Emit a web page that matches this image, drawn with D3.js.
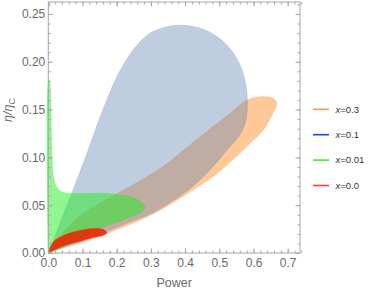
<!DOCTYPE html>
<html>
<head>
<meta charset="utf-8">
<script src="https://cdn.jsdelivr.net/npm/d3@7"></script>
<style>
body { margin: 0; background: #fff; }
text { font-family: "Liberation Sans", Arial, sans-serif; }
</style>
</head>
<body>
<script>

// boundary curves [Power, eta/etaC] for each x value
var curveX03 = [[0,0],[0.01,0.006],[0.04,0.02],[0.09,0.038],[0.185,0.059],[0.28,0.078],[0.341,0.092],[0.434,0.119],
    [0.531,0.1459],[0.58,0.16],[0.619,0.1635],[0.648,0.1631],[0.664,0.16],[0.668,0.1558],[0.657,0.1461],[0.629,0.1286],
    [0.58,0.1112],[0.531,0.0946],[0.482,0.0798],[0.434,0.0685],[0.385,0.057],[0.307,0.0408],[0.21,0.0256],[0.122,0.0136],
    [0.049,0.0058],[0,0]];

var curveX01 = [[0,0],[0.0225,0.0209],[0.0684,0.0627],[0.1161,0.1077],[0.1512,0.1422],[0.2,0.1841],[0.2477,0.2123],
    [0.2974,0.2301],[0.3462,0.2367],[0.385,0.2384],[0.444,0.2353],[0.496,0.2259],[0.54,0.21],[0.567,0.1914],[0.5795,0.1726],
    [0.5825,0.1548],[0.578,0.1385],[0.565,0.1262],[0.548,0.1175],[0.531,0.1112],[0.482,0.0903],[0.434,0.0732],[0.385,0.0596],
    [0.307,0.0424],[0.21,0.0282],[0.122,0.0152],[0.049,0.0063],[0,0]];

var curveX001 = [[0,0],[0,0.179],[0.0035,0.181],[0.007,0.16],[0.0094,0.129],[0.0117,0.098],[0.0146,0.0816],[0.0196,0.073],
    [0.0292,0.0667],[0.0439,0.0636],[0.0684,0.0625],[0.185,0.062],[0.244,0.0586],[0.263,0.0554],[0.283,0.0484],[0.273,0.0432],
    [0.244,0.038],[0.205,0.0328],[0.166,0.0282],[0.122,0.02],[0.063,0.0094],[0,0]];

var curveX00 = [[0,0],[0.004,0.005],[0.01,0.009],[0.02,0.0135],[0.049,0.019],[0.088,0.0232],[0.13,0.0255],[0.16,0.0248],
    [0.171,0.0215],[0.162,0.0185],[0.13,0.0162],[0.088,0.0118],[0.049,0.0082],[0.015,0.003],[0,0]];

var legendLabels = ["0.3", "0.1", "0.01", "0.0"];
var legendColors = ["#ff9a40", "#2a3cff", "#33ee33", "#ff3a3a"];

var xTicks = [0, 0.1, 0.2, 0.3, 0.4, 0.5, 0.6, 0.7];
var xTickLabels = ["0.0", "0.1", "0.2", "0.3", "0.4", "0.5", "0.6", "0.7"];
var yTicks = [0, 0.05, 0.1, 0.15, 0.2, 0.25];
var yTickLabels = ["0.00", "0.05", "0.10", "0.15", "0.20", "0.25"];

var chartW = 374, chartH = 293;
var frameL = 48.3, frameR = 300, frameT = 2, frameB = 253;

var svg = d3.select("body").append("svg")
    .attr("width", chartW)
    .attr("height", chartH);

var x = d3.scaleLinear().domain([0, 0.736]).range([frameL, frameR]);
var y = d3.scaleLinear().domain([0, 0.2625]).range([frameB, frameT]);

var line = d3.line()
    .x(function(d){ return x(d[0]); })
    .y(function(d){ return y(d[1]); })
    .curve(d3.curveCatmullRom.alpha(0.5));

var regions = [
    {data: curveX03, fill: "#ff9a40", op: 0.55},
    {data: curveX01, fill: "#5e81b5", op: 0.4},
    {data: curveX001, fill: "#22ee22", op: 0.5},
    {data: curveX00, fill: "#ee2000", op: 0.85}
];

var gPlot = svg.append("g");
regions.forEach(function(r){
    gPlot.append("path")
        .attr("d", line(r.data))
        .attr("fill", r.fill)
        .attr("fill-opacity", r.op)
        .attr("stroke", r.fill)
        .attr("stroke-opacity", r.op * 0.6)
        .attr("stroke-width", 0.6);
});

// frame
svg.append("rect")
    .attr("x", frameL).attr("y", frameT)
    .attr("width", frameR - frameL).attr("height", frameB - frameT)
    .attr("fill", "none")
    .attr("stroke", "#a6a6a6")
    .attr("stroke-width", 1);

var xMinor = d3.range(0, 0.7401, 0.02);
var yMinor = d3.range(0, 0.2601, 0.01);

function styleAxis(g){
    g.select(".domain").remove();
    g.selectAll(".tick line").attr("stroke", "#a6a6a6");
    g.selectAll(".tick text").attr("fill", "#6a6a6a").style("font-size", "12px")
        .style("font-family", "'Liberation Sans', Arial, sans-serif");
}

// bottom
svg.append("g").attr("transform", "translate(0," + frameB + ")")
    .call(d3.axisBottom(x).tickValues(xMinor).tickSize(-2.5).tickFormat(""))
    .call(styleAxis);
svg.append("g").attr("transform", "translate(0," + frameB + ")")
    .call(d3.axisBottom(x).tickValues(xTicks).tickSize(-4.5).tickPadding(5)
        .tickFormat(function(d, i){ return xTickLabels[i]; }))
    .call(styleAxis);
// top
svg.append("g").attr("transform", "translate(0," + frameT + ")")
    .call(d3.axisTop(x).tickValues(xMinor).tickSize(-2.5).tickFormat(""))
    .call(styleAxis);
svg.append("g").attr("transform", "translate(0," + frameT + ")")
    .call(d3.axisTop(x).tickValues(xTicks).tickSize(-4.5).tickFormat(""))
    .call(styleAxis);
// left
svg.append("g").attr("transform", "translate(" + frameL + ",0)")
    .call(d3.axisLeft(y).tickValues(yMinor).tickSize(-2.5).tickFormat(""))
    .call(styleAxis);
svg.append("g").attr("transform", "translate(" + frameL + ",0)")
    .call(d3.axisLeft(y).tickValues(yTicks).tickSize(-4.5).tickPadding(3)
        .tickFormat(function(d, i){ return yTickLabels[i]; }))
    .call(styleAxis);
// right
svg.append("g").attr("transform", "translate(" + frameR + ",0)")
    .call(d3.axisRight(y).tickValues(yMinor).tickSize(-2.5).tickFormat(""))
    .call(styleAxis);
svg.append("g").attr("transform", "translate(" + frameR + ",0)")
    .call(d3.axisRight(y).tickValues(yTicks).tickSize(-4.5).tickFormat(""))
    .call(styleAxis);

// axis titles
svg.append("text")
    .attr("x", (frameL + frameR) / 2)
    .attr("y", 287)
    .attr("text-anchor", "middle")
    .attr("fill", "#6a6a6a")
    .style("font-size", "12.5px")
    .text("Power");

var yTitle = svg.append("text")
    .attr("transform", "translate(12,110) rotate(-90)")
    .attr("text-anchor", "middle")
    .attr("fill", "#6a6a6a")
    .style("font-size", "12.5px")
    .style("font-style", "italic");
yTitle.append("tspan").text("η/η");
yTitle.append("tspan").attr("dy", 3).style("font-size", "9px").style("font-style", "normal").text("C");

// legend
var legend = svg.append("g");
legendLabels.forEach(function(lab, i){
    var ly = 109.3 + i * 25.4;
    legend.append("line")
        .attr("x1", 313).attr("x2", 329)
        .attr("y1", ly).attr("y2", ly)
        .attr("stroke", legendColors[i])
        .attr("stroke-width", 1.6);
    var t = legend.append("text")
        .attr("x", 335.5).attr("y", ly + 3.3)
        .attr("fill", "#333")
        .style("font-size", "9.5px");
    t.append("tspan").style("font-style", "italic").text("x");
    t.append("tspan").text("=" + lab);
});

</script>
</body>
</html>
